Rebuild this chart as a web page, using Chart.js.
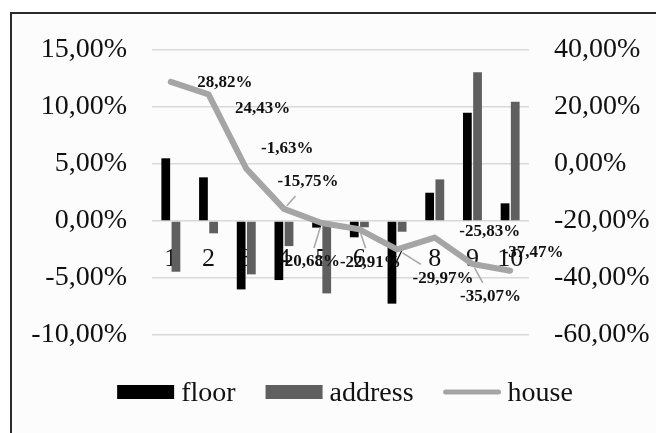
<!DOCTYPE html>
<html>
<head>
<meta charset="utf-8">
<script src="https://cdn.jsdelivr.net/npm/chart.js@4/dist/chart.umd.min.js"></script>
<style>
  html, body { margin: 0; padding: 0; background: #ffffff; }
  #wrap { width: 656px; height: 433px; position: relative; }
</style>
</head>
<body>
<div id="wrap"><canvas id="c" width="656" height="433"></canvas></div>
<script>
// Categories and series (percent values)
const categories = ['1', '2', '3', '4', '5', '6', '7', '8', '9', '10'];
const floorValues = [5.50, 3.83, -6.00, -5.18, -0.58, -1.43, -7.25, 2.48, 9.50, 1.55];
const addressValues = [-4.45, -1.08, -4.68, -2.20, -6.35, -0.55, -0.94, 3.65, 13.04, 10.47];
const houseValues = [28.82, 24.43, -1.63, -15.75, -20.68, -22.91, -29.97, -25.83, -35.07, -37.47];

// Axis ranges
const leftAxisRange = { min: -10, max: 15, step: 5 };
const rightAxisRange = { min: -60, max: 40, step: 20 };

// Label placement for the house line: [dx, dy, leader line]
const houseLabelOffsets = [
  [54, 1, false], [54, 14, false], [41, -20, false], [24, -27, true], [-12, 39, true],
  [11, 33, true], [46, 29, true], [55, -6, false], [18, 33, true], [23, -18, false]
];

const SERIF = '"Liberation Serif", "Times New Roman", serif';
const pct = v => v.toFixed(2).replace('.', ',') + '%';

// Page background and frame
const framePlugin = {
  id: 'frame',
  beforeDraw(chart) {
    const ctx = chart.ctx;
    ctx.save();
    ctx.fillStyle = '#ffffff';
    ctx.fillRect(0, 0, chart.width, chart.height);
    ctx.fillStyle = '#fcfcfc';
    ctx.fillRect(11, 13, chart.width - 11, chart.height - 13);
    ctx.strokeStyle = '#2a2a2a';
    ctx.lineWidth = 2;
    ctx.beginPath();
    ctx.moveTo(11, chart.height);
    ctx.lineTo(11, 13);
    ctx.lineTo(chart.width, 13);
    ctx.stroke();
    ctx.restore();
  }
};

// Value labels for the line series, with leader lines
const houseLabelsPlugin = {
  id: 'houseLabels',
  afterDatasetsDraw(chart) {
    const ctx = chart.ctx;
    const meta = chart.getDatasetMeta(2);
    const values = chart.data.datasets[2].data;
    ctx.save();
    ctx.font = 'bold 17px ' + SERIF;
    ctx.textAlign = 'center';
    ctx.textBaseline = 'middle';
    meta.data.forEach((pt, i) => {
      const [dx, dy, leader] = houseLabelOffsets[i];
      const text = pct(values[i]);
      const cx = pt.x + dx, cy = pt.y + dy;
      if (leader) {
        // stop the leader where it enters the padded label box
        const w = ctx.measureText(text).width / 2 + 7;
        const h = 14;
        const vx = cx - pt.x, vy = cy - pt.y;
        const tx = vx !== 0 ? 1 - w / Math.abs(vx) : -Infinity;
        const ty = vy !== 0 ? 1 - h / Math.abs(vy) : -Infinity;
        const tEnd = Math.max(0, Math.max(tx, ty));
        ctx.strokeStyle = '#a6a6a6';
        ctx.lineWidth = 1.5;
        ctx.beginPath();
        ctx.moveTo(pt.x + vx * 0.12, pt.y + vy * 0.12);
        ctx.lineTo(pt.x + vx * tEnd, pt.y + vy * tEnd);
        ctx.stroke();
      }
      ctx.fillStyle = '#111111';
      ctx.fillText(text, cx, cy);
    });
    ctx.restore();
  }
};

// Legend row under the plot
const legendPlugin = {
  id: 'rowLegend',
  afterDraw(chart) {
    const ctx = chart.ctx;
    const ds = chart.data.datasets;
    const swW = 57, swH = 14, gapText = 7, gapItem = 30;
    const centerX = 345, midY = 392, baseY = 401;
    ctx.save();
    ctx.font = '28px ' + SERIF;
    const widths = ds.map(d => swW + gapText + ctx.measureText(d.label).width);
    const total = widths.reduce((a, b) => a + b, 0) + gapItem * (ds.length - 1);
    let x = centerX - total / 2;
    ds.forEach((d, i) => {
      if (d.type === 'line') {
        ctx.strokeStyle = d.borderColor;
        ctx.lineWidth = 5;
        ctx.lineCap = 'round';
        ctx.beginPath();
        ctx.moveTo(x + 2, midY);
        ctx.lineTo(x + swW - 2, midY);
        ctx.stroke();
      } else {
        ctx.fillStyle = d.backgroundColor;
        ctx.fillRect(x, midY - swH / 2, swW, swH);
      }
      ctx.fillStyle = '#111111';
      ctx.textAlign = 'left';
      ctx.textBaseline = 'alphabetic';
      ctx.fillText(d.label, x + swW + gapText, baseY);
      x += widths[i] + gapItem;
    });
    ctx.restore();
  }
};

new Chart(document.getElementById('c'), {
  type: 'bar',
  data: {
    labels: categories,
    datasets: [
      { label: 'floor', data: floorValues, backgroundColor: '#000000', yAxisID: 'y', order: 1,
        categoryPercentage: 0.54, barPercentage: 0.86 },
      { label: 'address', data: addressValues, backgroundColor: '#5f5f5f', yAxisID: 'y', order: 1,
        categoryPercentage: 0.54, barPercentage: 0.86 },
      { label: 'house', type: 'line', data: houseValues, borderColor: '#a5a5a5', backgroundColor: '#a5a5a5',
        borderWidth: 6, pointRadius: 0, tension: 0, yAxisID: 'y1', order: 0,
        borderCapStyle: 'round', borderJoinStyle: 'round' }
    ]
  },
  options: {
    responsive: false,
    devicePixelRatio: 1,
    animation: false,
    layout: { padding: { left: 0, right: 0, top: 50, bottom: 98 } },
    plugins: { legend: { display: false }, tooltip: { enabled: false } },
    scales: {
      x: {
        type: 'category',
        position: { y: 0 },
        offset: true,
        z: 1,
        grid: { display: false },
        border: { display: false },
        ticks: { font: { family: SERIF, size: 26 }, color: '#111111', padding: 15,
                 maxRotation: 0, autoSkip: false }
      },
      y: {
        position: 'left',
        min: leftAxisRange.min, max: leftAxisRange.max,
        grid: { color: '#d9d9d9', lineWidth: 1.5, drawTicks: false },
        border: { display: false },
        ticks: { stepSize: leftAxisRange.step, padding: 25, color: '#111111',
                 font: { family: SERIF, size: 28 }, callback: v => pct(v) },
        afterFit(s) { s.width = 152; }
      },
      y1: {
        position: 'right',
        min: rightAxisRange.min, max: rightAxisRange.max,
        grid: { display: false, drawTicks: false },
        border: { display: false },
        ticks: { stepSize: rightAxisRange.step, padding: 25, color: '#111111',
                 font: { family: SERIF, size: 28 }, callback: v => pct(v) },
        afterFit(s) { s.width = 127; }
      }
    }
  },
  plugins: [framePlugin, houseLabelsPlugin, legendPlugin]
});
</script>
</body>
</html>
